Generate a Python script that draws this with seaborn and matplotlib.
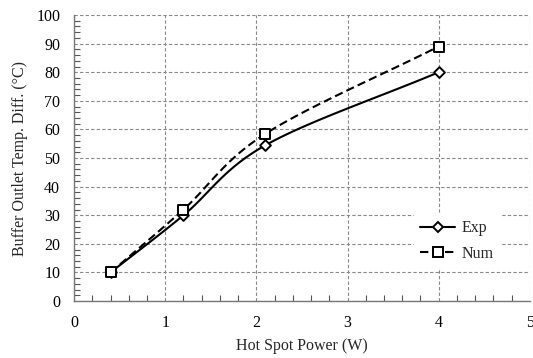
import numpy as np
import pandas as pd
import seaborn as sns
import matplotlib.pyplot as plt
from matplotlib.ticker import MultipleLocator

# data
power = [0.4, 1.2, 2.1, 4.0]
exp_temp = [10.0, 30.0, 54.5, 80.0]
num_temp = [10.0, 32.0, 58.5, 89.0]


def smooth(x, y, n=40):
    """Catmull-Rom style smoothing, like the spreadsheet 'smoothed line'."""
    x = np.asarray(x, float)
    y = np.asarray(y, float)
    px = np.concatenate([[2 * x[0] - x[1]], x, [2 * x[-1] - x[-2]]])
    py = np.concatenate([[2 * y[0] - y[1]], y, [2 * y[-1] - y[-2]]])
    xs, ys = [], []
    t = np.linspace(0, 1, n)
    for i in range(1, len(px) - 2):
        p0, p1, p2, p3 = [np.array([px[j], py[j]]) for j in range(i - 1, i + 3)]
        c1 = p1 + (p2 - p0) / 6
        c2 = p2 - (p3 - p1) / 6
        b = ((1 - t) ** 3)[:, None] * p1 + (3 * (1 - t) ** 2 * t)[:, None] * c1 \
            + (3 * (1 - t) * t ** 2)[:, None] * c2 + (t ** 3)[:, None] * p2
        xs.extend(b[:, 0])
        ys.extend(b[:, 1])
    return np.array(xs), np.array(ys)


sns.set_theme(style="ticks")
plt.rcParams["font.family"] = ["Liberation Serif", "DejaVu Serif"]
plt.rcParams["font.size"] = 11

fig, ax = plt.subplots(figsize=(5.33, 3.58), dpi=100)
fig.subplots_adjust(left=0.139, right=0.994, top=0.958, bottom=0.159)

df = pd.DataFrame({"power": power, "Exp": exp_temp, "Num": num_temp})

sx, sy = smooth(power, exp_temp)
ax.plot(sx, sy, color="black", lw=1.5, zorder=3)
sx, sy = smooth(power, num_temp)
ax.plot(sx, sy, color="black", lw=1.5, ls=(0, (4, 2)), zorder=3)

sns.scatterplot(data=df, x="power", y="Exp", marker="D", s=30, facecolor="white",
                edgecolor="black", linewidth=1.4, ax=ax, zorder=4)
sns.scatterplot(data=df, x="power", y="Num", marker="s", s=60, facecolor="white",
                edgecolor="black", linewidth=1.4, ax=ax, zorder=5)

# legend handles
h1, = ax.plot([], [], color="black", lw=1.5, marker="D", ms=5, mfc="white", mec="black", mew=1.4, label="Exp")
h2, = ax.plot([], [], color="black", lw=1.5, ls=(0, (4, 2)), marker="s", ms=7, mfc="white", mec="black", mew=1.4, label="Num")
leg = ax.legend(handles=[h1, h2], loc="center left", bbox_to_anchor=(0.745, 0.21),
                frameon=True, fancybox=False, edgecolor="none", facecolor="white",
                framealpha=1, fontsize=11.5, handlelength=2.2, handletextpad=0.4,
                labelspacing=0.6, borderaxespad=0)

ax.set_xlim(0, 5)
ax.set_ylim(0, 100)
ax.xaxis.set_major_locator(MultipleLocator(1))
ax.xaxis.set_minor_locator(MultipleLocator(0.2))
ax.yaxis.set_major_locator(MultipleLocator(10))
ax.yaxis.set_minor_locator(MultipleLocator(2))
ax.tick_params(which="both", direction="in", colors="#555555", labelcolor="black",
               top=False, right=False, labelsize=11.5)
ax.tick_params(which="major", length=0)
ax.tick_params(axis="x", which="major", pad=10)
ax.tick_params(axis="y", which="major", pad=10)
ax.tick_params(which="minor", length=4, width=0.8)
ax.grid(True, which="major", ls=(0, (3, 2)), color="#888888", lw=0.8)
for s in ["top", "right"]:
    ax.spines[s].set_visible(False)
for s in ["left", "bottom"]:
    ax.spines[s].set_color("#777777")
    ax.spines[s].set_linewidth(1)

ax.set_xlabel("Hot Spot Power (W)", fontsize=11.5, labelpad=5)
ax.set_ylabel("Buffer Outlet Temp. Diff. (°C)", fontsize=11.5, labelpad=6)

fig.savefig("out.png", dpi=100)
